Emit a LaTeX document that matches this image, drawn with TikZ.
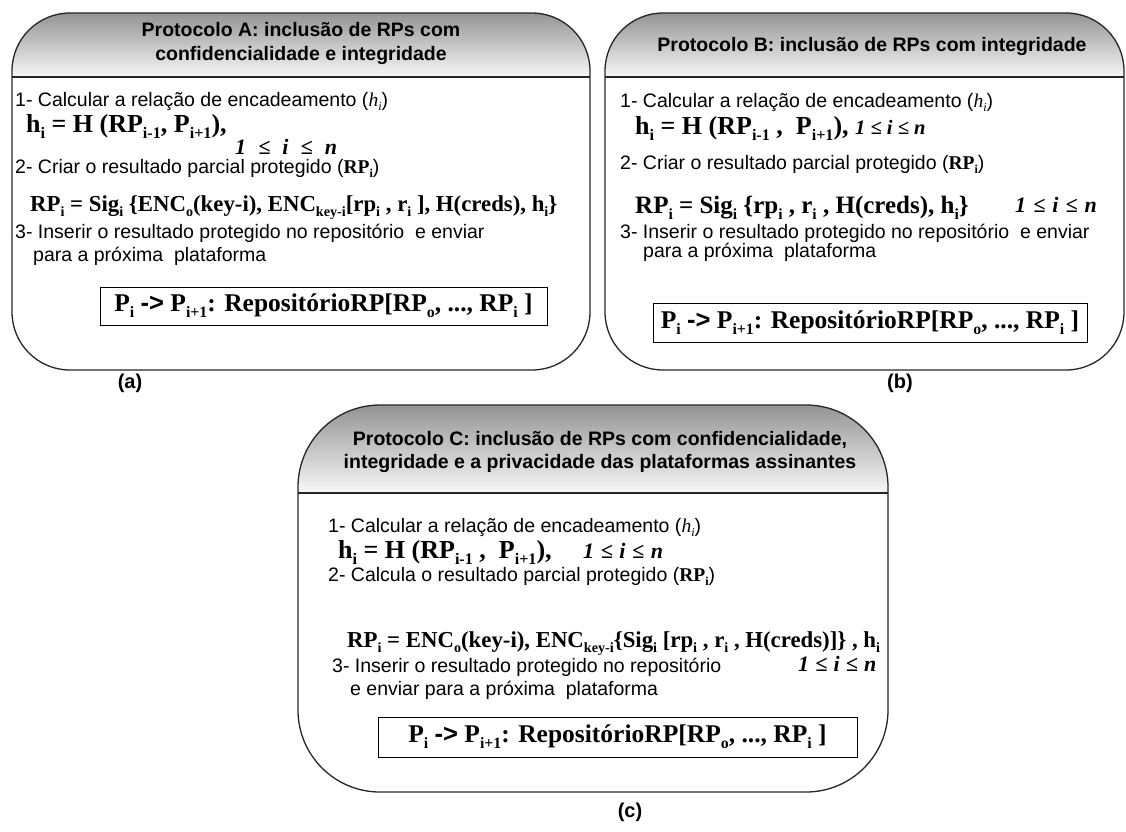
\documentclass[tikz,border=0pt]{standalone}
\usepackage{fontspec}
\setmainfont{Liberation Sans}
\newfontfamily\tms{Liberation Serif}

% lowered, reduced subscript in the current font
\makeatletter
\newcommand\sbs[1]{\raisebox{-0.24em}{\fontsize{\fpeval{0.62*\f@size}}{0}\selectfont #1}}
\makeatother
% range of the index, with a given gap between the symbols
\newcommand\idxrange[1]{1\hspace{#1}≤\hspace{#1}i\hspace{#1}≤\hspace{#1}n}

\tikzset{
  panel/.style={line width=1.3pt, draw=black!85},
  hd/.style={anchor=base, inner sep=0pt, font=\bfseries\fontsize{19.5}{23}\selectfont},
  txt/.style={anchor=base west, inner sep=0pt, font=\fontsize{19.5}{23}\selectfont},
  fx/.style={anchor=base west, inner sep=0pt, font=\tms\bfseries\fontsize{#1}{30}\selectfont},
  fx/.default=25,
  rng/.style={anchor=base west, inner sep=0pt, font=\tms\bfseries\itshape\fontsize{22}{25}\selectfont},
  resbox/.style={draw, line width=1pt, inner sep=0pt, font=\tms\bfseries\fontsize{25.5}{30}\selectfont},
  lbl/.style={inner sep=0pt, font=\bfseries\fontsize{20}{24}\selectfont},
}

% rounded panel with a shaded title band: x1, y1, x2, y2, y of band bottom, corner radius
\newcommand\protpanel[6]{%
  \begin{scope}
    \clip[rounded corners=#6pt] (#1,-#2) rectangle (#3,-#4);
    \shade[top color=black!42, bottom color=black!3] (#1,-#2) rectangle (#3,-#5);
  \end{scope}
  \draw[panel, rounded corners=#6pt] (#1,-#2) rectangle (#3,-#4);
  \draw[panel] (#1,-#5) -- (#3,-#5);
}

\newcommand\hsub{({\tms\itshape h\sbs{i}})}
\newcommand\rpsub{({\tms\bfseries RP\sbs{i}})}
\newcommand\arrowsym{{\rmfamily\bfseries ->}}
\newcommand\repo{P\sbs{i} \arrowsym{} P\sbs{i+1}: RepositórioRP[RP\sbs{o}, ..., RP\sbs{i} ]}

\begin{document}
\begin{tikzpicture}[x=1pt, y=1pt]
\useasboundingbox (0,0) rectangle (1126,-831);

% ---------------- Protocol A ----------------
\protpanel{12}{13}{590}{370}{77}{58}
\node[hd] (Ah1) at (301,-36) {Protocolo A: inclusão de RPs com};
\node[hd] (Ah2) at (301,-60) {confidencialidade e integridade};
\node[txt] (A1) at (15,-106) {1- Calcular a relação de encadeamento \hsub};
\node[fx=26] (Ah) at (26,-132) {h\sbs{i} = H (RP\sbs{i-1}, P\sbs{i+1}),};
\node[rng] (Ar) at (235,-154) {\idxrange{0.55em}};
\node[txt] (A2) at (15,-173) {2- Criar o resultado parcial protegido \rpsub};
\node[fx=22.8] (Arp) at (30,-211) {RP\sbs{i} = Sig\sbs{i} \{ENC\sbs{o}(key-i), ENC\sbs{key-i}[rp\sbs{i} , r\sbs{i} ], H(creds), h\sbs{i}\}};
\node[txt] (A3) at (15,-238) {3- Inserir o resultado protegido no repositório\ \ e enviar};
\node[txt] (A3b) at (33,-261) {para a próxima\ \ plataforma};
\node[resbox, minimum width=447pt, minimum height=38pt] (Abox) at (323.5,-306) {\repo};
\node[lbl] (la) at (130,-383) {(a)};

% ---------------- Protocol B ----------------
\protpanel{605}{13}{1124}{370}{77}{58}
\node[hd] (Bh1) at (872,-51) {Protocolo B: inclusão de RPs com integridade};
\node[txt] (B1) at (620,-107) {1- Calcular a relação de encadeamento \hsub};
\node[fx=26] (Bh) at (635,-134) {h\sbs{i} = H (RP\sbs{i-1} ,\ \ P\sbs{i+1}), {\itshape\fontsize{20.5}{25}\selectfont\idxrange{0.25em}}};
\node[txt] (B2) at (620,-169) {2- Criar o resultado parcial protegido \rpsub};
\node[fx=25] (Brp) at (635,-213) {RP\sbs{i} = Sig\sbs{i} \{rp\sbs{i} , r\sbs{i} , H(creds), h\sbs{i}\}};
\node[rng] (Br) at (1015,-212) {\idxrange{0.32em}};
\node[txt] (B3) at (620,-238) {3- Inserir o resultado protegido no repositório\ \ e enviar};
\node[txt] (B3b) at (643,-257) {para a próxima\ \ plataforma};
\node[resbox, minimum width=434pt, minimum height=39pt] (Bbox) at (870,-322.5) {\repo};
\node[lbl] (lb) at (900,-383) {(b)};

% ---------------- Protocol C ----------------
\protpanel{298}{405}{888}{792}{493}{82}
\node[hd] (Ch1) at (600,-445) {Protocolo C: inclusão de RPs com confidencialidade,};
\node[hd] (Ch2) at (600,-468) {integridade e a privacidade das plataformas assinantes};
\node[txt] (C1) at (328,-532) {1- Calcular a relação de encadeamento \hsub};
\node[fx=26] (Ch) at (338,-558) {h\sbs{i} = H (RP\sbs{i-1} ,\ \ P\sbs{i+1}),};
\node[rng] (Cr1) at (583,-558) {\idxrange{0.3em}};
\node[txt] (C2) at (328,-581) {2- Calcula o resultado parcial protegido \rpsub};
\node[fx=22.8] (Crp) at (347,-647) {RP\sbs{i} = ENC\sbs{o}(key-i), ENC\sbs{key-i}\{Sig\sbs{i} [rp\sbs{i} , r\sbs{i} , H(creds)]\} , h\sbs{i}};
\node[rng] (Cr2) at (798,-671) {\idxrange{0.28em}};
\node[txt] (C3) at (332,-672) {3- Inserir o resultado protegido no repositório};
\node[txt] (C3b) at (350,-695) {e enviar para a próxima\ \ plataforma};
\node[resbox, minimum width=479pt, minimum height=40pt] (Cbox) at (617.5,-737) {\repo};
\node[lbl] (lc) at (630,-812) {(c)};
\end{tikzpicture}
\end{document}
